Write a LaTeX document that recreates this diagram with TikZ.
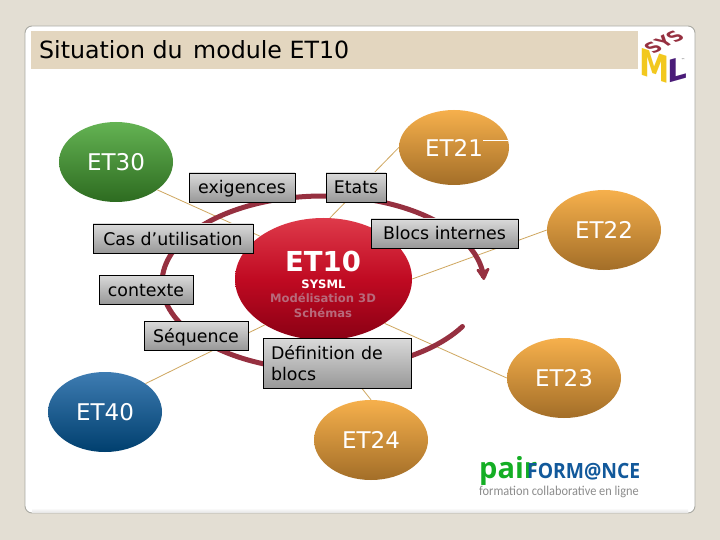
\documentclass[tikz,border=0pt]{standalone}
\usepackage{fontspec}
\setmainfont{DejaVu Sans}
\newfontfamily\logofont{Open Sans}
\newfontfamily\tagfont{Carlito}
\usetikzlibrary{shapes.geometric,arrows.meta}
\newcommand{\fsz}[1]{\fontsize{#1}{#1}\selectfont}
\definecolor{pagebg}{HTML}{E3DED3}
\definecolor{titlebg}{HTML}{E3D6BF}
\definecolor{panelline}{HTML}{A9A9A2}
\definecolor{ringcol}{HTML}{963040}
\definecolor{linkcol}{HTML}{CFA65E}
\definecolor{sublabel}{HTML}{B8697A}
\definecolor{ballotop}{HTML}{F6B04C}
\definecolor{ballobot}{HTML}{A36E28}
\definecolor{ballgtop}{HTML}{64B353}
\definecolor{ballgbot}{HTML}{2D6B20}
\definecolor{ballbtop}{HTML}{3E7CB2}
\definecolor{ballbbot}{HTML}{003F6E}
\definecolor{boxtop}{HTML}{DADADA}
\definecolor{boxbot}{HTML}{989898}
\definecolor{redtop}{HTML}{DE3A4A}
\definecolor{redmid}{HTML}{C00A22}
\definecolor{redbot}{HTML}{8A0014}
\definecolor{logoyellow}{HTML}{F2C81E}
\definecolor{logopurple}{HTML}{4A1C78}
\definecolor{pairgreen}{HTML}{14AE24}
\definecolor{pairblue}{HTML}{12599B}
\definecolor{taggray}{HTML}{8C8C8C}
\tikzset{
  etball/.style={ellipse,inner sep=0pt,minimum width=114pt,minimum height=80pt,text=white,font=\fsz{23}},
  orangeball/.style={etball,top color=ballotop,bottom color=ballobot},
  greenball/.style={etball,top color=ballgtop,bottom color=ballgbot},
  blueball/.style={etball,top color=ballbtop,bottom color=ballbbot},
  graybox/.style={rectangle,draw=black,line width=0.8pt,top color=boxtop,bottom color=boxbot,inner sep=0pt,font=\fsz{17.4},text=black,minimum height=29pt},
  oneline/.style={graybox,text height=15pt,text depth=2pt},
  link/.style={draw=linkcol,line width=0.8pt},
  ringline/.style={draw=ringcol,line width=5pt,line cap=round}
}
\begin{document}
\begin{tikzpicture}[x=1pt,y=-1pt]
\useasboundingbox (0,0) rectangle (720,540);
\fill[pagebg] (0,0) rectangle (720,540);
% panel
\fill[white,draw=panelline,line width=0.9pt,rounded corners=7pt] (25,26) rectangle (695,513);
\shade[top color=white,bottom color=black!10] (32,508) rectangle (688,512.4);
\fill[titlebg] (31,31) rectangle (638,69);
\node[anchor=base west,inner sep=0pt,font=\fsz{23.7}] (title) at (39,59) {Situation du\hspace{3pt} module ET10};

% circles
\node[orangeball,minimum width=110pt,minimum height=75pt] (et21) at (454,147.5) {ET21};
\node[orangeball] (et22) at (604,230) {ET22};
\node[orangeball] (et23) at (564,378) {ET23};
\node[orangeball] (et24) at (371,440) {ET24};
\node[greenball] (et30) at (116,162) {ET30};
\node[blueball] (et40) at (105,412) {ET40};
\node[ellipse,inner sep=0pt,minimum width=177pt,minimum height=122pt,top color=redtop,bottom color=redbot,middle color=redmid] (et10) at (323.5,279) {};

% connectors
\draw[link] (et30.-34) -- (et10.146);
\draw[link] (et21.180) -- (et10.84);
\draw[link] (et22.180) -- (et10.0);
\draw[link] (et23.180) -- (et10.-36);
\draw[link] (et24.north) -- (et10.south);
\draw[link] (et40.35) -- (et10.218);

% ring
\draw[ringline,-{Stealth[length=15pt,width=17pt,inset=5pt,round]}] plot[domain=30:358,samples=140,smooth] ({323+161*cos(\x)},{283+87*sin(\x)});

% line on ET21
\coordinate (hairA) at (483,140.5);
\coordinate (hairB) at (508,140.5);
\draw[white,line width=0.8pt] (hairA) -- (hairB);

% ET10 text
\node[inner sep=0pt,text=white,font=\fsz{27.5}\bfseries] (t10) at (323,261) {ET10};
\node[inner sep=0pt,text=white,font=\fsz{11.6}\bfseries] (tsys) at (323.5,284) {SYSML};
\node[inner sep=0pt,text=sublabel,font=\fsz{11.6}\bfseries] (tmod) at (323,298) {Modélisation 3D};
\node[inner sep=0pt,text=sublabel,font=\fsz{11.6}\bfseries] (tsch) at (323,312.5) {Schémas};

% boxes
\node[oneline,minimum width=106pt] (exi) at (242,187.5) {exigences};
\node[oneline,minimum width=60pt] (eta) at (356,187.5) {Etats};
\node[oneline,minimum width=160pt] (cas) at (173,238.5) {Cas d’utilisation};
\node[oneline,minimum width=147pt] (blo) at (444.5,233.5) {Blocs internes};
\node[oneline,minimum width=94pt] (con) at (146,289.5) {contexte};
\node[oneline,minimum width=104pt] (seq) at (196,335.5) {Séquence};
\node[graybox,minimum width=148pt,minimum height=50pt,align=left,text width=132pt,inner sep=0pt] (def) at (337,363) {Définition de\\[4pt]blocs};

% SysML logo
\fill[white] (638,31) rectangle (693,85);
\node[transform shape,yslant=-0.32,xscale=0.82,inner sep=0pt,text=logoyellow,font=\fsz{37}\bfseries] (logoM) at (655,66) {M};
\node[transform shape,yslant=0.28,inner sep=0pt,text=logopurple,font=\fsz{31}\bfseries] (logoL) at (677,69.5) {L};
\node[transform shape,rotate=28,xslant=-0.5,inner sep=0pt,text=ringcol,font=\fsz{17}\bfseries] (logoS) at (664,42) {SYS};
\node[inner sep=0pt,text=black!60,font=\fsz{4}] (logoTM) at (683,60) {™};

% pairformance logo
\node[anchor=base west,inner sep=0pt,text=pairgreen,font=\logofont\fsz{29}\bfseries] (pair) at (479,478) {pair};
\node[anchor=base west,transform shape,xscale=0.92,inner sep=0pt,text=pairblue,font=\logofont\fsz{21}\bfseries] (form) at (527,478) {FORM@NCE};
\node[anchor=base west,transform shape,xscale=0.915,inner sep=0pt,text=taggray,font=\tagfont\fsz{13.5}] (tagline) at (479,495) {formation collaborative en ligne};
\end{tikzpicture}
\end{document}
